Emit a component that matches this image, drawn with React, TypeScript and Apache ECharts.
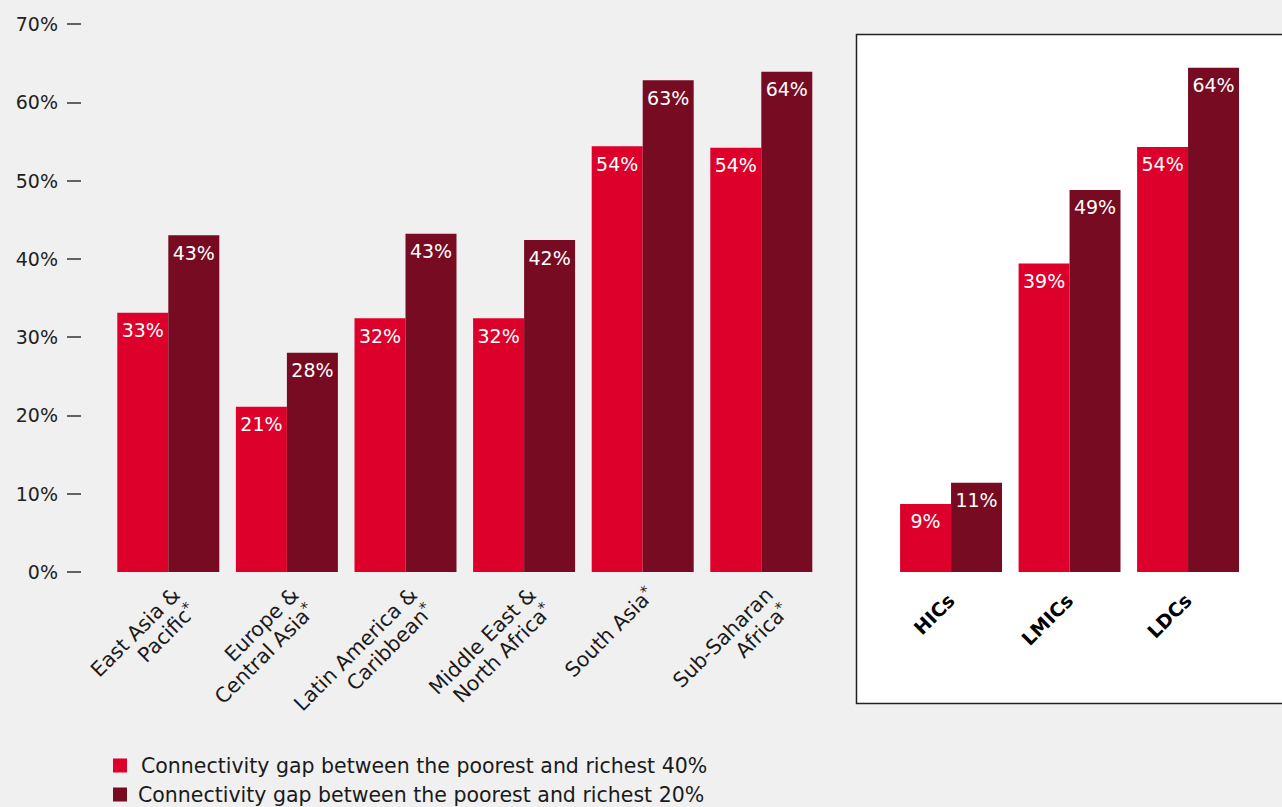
import React, { useEffect, useRef } from "react";
import * as echarts from "echarts";

const regions = [
  "East Asia &\nPacific*",
  "Europe &\nCentral Asia*",
  "Latin America &\nCaribbean*",
  "Middle East &\nNorth Africa*",
  "South Asia*",
  "Sub-Saharan\nAfrica*",
];
const regionGap40 = [33.1, 21.1, 32.4, 32.4, 54.4, 54.2];
const regionGap20 = [43.0, 28.0, 43.2, 42.4, 62.8, 63.9];

const groups = ["HICs", "LMICs", "LDCs"];
const groupGap40 = [8.7, 39.4, 54.3];
const groupGap20 = [11.4, 48.8, 64.4];

const yTicks = [0, 10, 20, 30, 40, 50, 60, 70];

const name40 = "Connectivity gap between the poorest and richest 40%";
const name20 = "Connectivity gap between the poorest and richest 20%";

const RED = "#dc002b";
const DARK = "#770b22";
const FONT = "DejaVu Sans";

export default function App() {
  const ref = useRef<HTMLDivElement>(null);
  useEffect(() => {
    if (!ref.current) return;
    const chart = echarts.init(ref.current, null, { renderer: "svg" });
    const valLabel = {
      show: true,
      position: "insideTop",
      distance: 8,
      color: "#ffffff",
      fontFamily: FONT,
      fontSize: 19,
      fontWeight: "normal",
      formatter: (p: any) => Math.round(p.value) + "%",
    };
    const catFormatter = (v: string) =>
      v
        .split("\n")
        .map((line) =>
          line.endsWith("*")
            ? "{n|" + line.slice(0, -1) + "}{s|*}"
            : "{n|" + line + "}"
        )
        .join("\n");
    const yMax = yTicks[yTicks.length - 1];
    const legendText = {
      fontFamily: FONT,
      fontSize: 20.5,
      color: "#1a1a1a",
      padding: [0, 0, 0, 9],
    };
    const option: any = {
      animation: false,
      backgroundColor: "#f0f0f0",
      textStyle: { fontFamily: FONT },
      graphic: [
        {
          type: "rect",
          z: -10,
          shape: { x: 856.5, y: 34.5, width: 450, height: 669 },
          style: { fill: "#ffffff", stroke: "#222222", lineWidth: 1.5 },
        },
      ],
      legend: [
        {
          orient: "horizontal",
          left: 108,
          top: 750,
          itemWidth: 14,
          itemHeight: 14,
          icon: "rect",
          data: [name40],
          textStyle: legendText,
        },
        {
          orient: "horizontal",
          left: 108,
          top: 779,
          itemWidth: 14,
          itemHeight: 14,
          icon: "rect",
          data: [name20],
          textStyle: { ...legendText, padding: [0, 0, 0, 6] },
        },
      ],
      grid: [
        { left: 109, width: 711.6, top: 24, bottom: 235 },
        { left: 891.8, width: 355.5, top: 24, bottom: 235 },
      ],
      xAxis: [
        {
          type: "category",
          gridIndex: 0,
          data: regions,
          axisLine: { show: false },
          axisTick: { show: false },
          axisLabel: {
            rotate: 45,
            margin: 11,
            interval: 0,
            verticalAlign: "top",
            formatter: catFormatter,
            rich: {
              n: { fontFamily: FONT, fontSize: 20.5, color: "#1a1a1a", lineHeight: 23 },
              s: { fontFamily: FONT, fontSize: 15, color: "#1a1a1a", verticalAlign: "top", padding: [0, 0, 8, 0] },
            },
          },
        },
        {
          type: "category",
          gridIndex: 1,
          data: groups,
          axisLine: { show: false },
          axisTick: { show: false },
          axisLabel: {
            rotate: 45,
            margin: 25,
            interval: 0,
            fontFamily: FONT,
            fontSize: 19,
            fontWeight: "bold",
            color: "#000000",
          },
        },
      ],
      yAxis: [
        {
          type: "value",
          gridIndex: 0,
          min: 0,
          max: yMax,
          interval: 10,
          offset: 28,
          splitLine: { show: false },
          axisLine: { show: false },
          axisTick: { show: true, length: 14, lineStyle: { color: "#333333", width: 1.5 } },
          axisLabel: {
            margin: 23,
            fontFamily: FONT,
            fontSize: 19,
            color: "#222222",
            formatter: (v: number) => v + "%",
          },
        },
        {
          type: "value",
          gridIndex: 1,
          min: 0,
          max: yMax,
          interval: 10,
          show: false,
          splitLine: { show: false },
        },
      ],
      series: [
        {
          name: name40,
          type: "bar",
          xAxisIndex: 0,
          yAxisIndex: 0,
          data: regionGap40,
          itemStyle: { color: RED },
          barGap: "0%",
          barCategoryGap: "14%",
          label: valLabel,
        },
        {
          name: name20,
          type: "bar",
          xAxisIndex: 0,
          yAxisIndex: 0,
          data: regionGap20,
          itemStyle: { color: DARK },
          barGap: "0%",
          barCategoryGap: "14%",
          label: valLabel,
        },
        {
          name: name40,
          type: "bar",
          xAxisIndex: 1,
          yAxisIndex: 1,
          data: groupGap40,
          itemStyle: { color: RED },
          barGap: "0%",
          barCategoryGap: "14%",
          label: valLabel,
        },
        {
          name: name20,
          type: "bar",
          xAxisIndex: 1,
          yAxisIndex: 1,
          data: groupGap20,
          itemStyle: { color: DARK },
          barGap: "0%",
          barCategoryGap: "14%",
          label: valLabel,
        },
      ],
    };
    chart.setOption(option);
    return () => chart.dispose();
  }, []);
  return (
    <div
      ref={ref}
      style={{ position: "fixed", left: 0, top: 0, width: 1282, height: 807 }}
    />
  );
}
